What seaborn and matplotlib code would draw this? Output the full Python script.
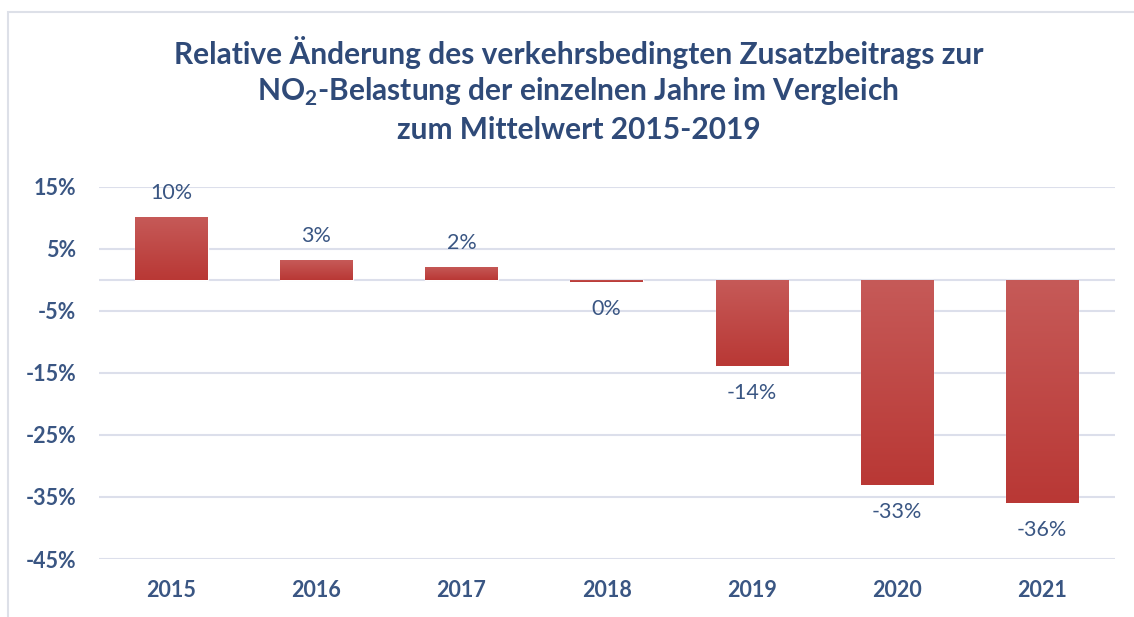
import matplotlib
matplotlib.use('Agg')
import matplotlib.pyplot as plt
import matplotlib.patches as mpatches
import numpy as np
import pandas as pd
import seaborn as sns

years = ['2015', '2016', '2017', '2018', '2019', '2020', '2021']
change = [10.2, 3.2, 2.1, -0.4, -13.9, -33.1, -36.0]
labels = ['10%', '3%', '2%', '0%', '-14%', '-33%', '-36%']
yticks = [15, 5, -5, -15, -25, -35, -45]

df = pd.DataFrame({'Jahr': years, 'Änderung': change})

sns.set_style('white')
plt.rcParams['font.family'] = ['Lato', 'DejaVu Sans']
plt.rcParams['mathtext.fontset'] = 'custom'
plt.rcParams['mathtext.rm'] = 'Lato:bold'
plt.rcParams['mathtext.bf'] = 'Lato:bold'

title_col = '#2f4a78'
tick_col = '#3a5683'
grid_col = '#dcdfeb'

fig = plt.figure(figsize=(11.34, 6.17), dpi=100)
ax = fig.add_axes([0.087, 0.094, 0.896, 0.603])

sns.barplot(data=df, x='Jahr', y='Änderung', color='#c0413e', width=0.5,
            saturation=1, ax=ax, zorder=3)

# leichter Verlauf in den Balken
grad = np.linspace(0, 1, 100).reshape(-1, 1)
cmap = matplotlib.colors.LinearSegmentedColormap.from_list('rot', ['#b93835', '#c65a58'])
for bar in ax.patches:
    x0, y0 = bar.get_x(), bar.get_y()
    w, h = bar.get_width(), bar.get_height()
    ylo, yhi = min(y0, y0 + h), max(y0, y0 + h)
    im = ax.imshow(grad, extent=[x0, x0 + w, ylo, yhi], origin='lower',
                   cmap=cmap, aspect='auto', zorder=4)
    im.set_clip_path(bar)

ax.set_ylim(-45, 15)
ax.set_xlim(-0.5, 6.5)
ax.set_yticks(yticks)
ax.set_yticklabels([f'{t}%' for t in yticks])
for g in [15, 5, 0, -5, -15, -25, -35, -45]:
    ax.axhline(g, color=grid_col, lw=1.5, zorder=1)

for i, (v, lab) in enumerate(zip(change, labels)):
    off = 10 if v >= 0 else -12
    ax.annotate(lab, (i, v), xytext=(0, off), textcoords='offset points',
                ha='center', va='bottom' if v >= 0 else 'top',
                fontsize=15.5, color=tick_col)

ax.set_xlabel('')
ax.set_ylabel('')
ax.tick_params(axis='both', length=0, labelsize=15.5, colors=tick_col)
for lab in ax.get_xticklabels() + ax.get_yticklabels():
    lab.set_fontweight('bold')
ax.tick_params(axis='y', pad=16)
ax.tick_params(axis='x', pad=15)
sns.despine(ax=ax, left=True, bottom=True, top=True, right=True)

fig.text(0.51, 0.915, 'Relative Änderung des verkehrsbedingten Zusatzbeitrags zur',
         ha='center', va='center', fontsize=21.5, fontweight='bold', color=title_col)
fig.text(0.51, 0.851, r'NO$_\mathbf{2}$-Belastung der einzelnen Jahre im Vergleich',
         ha='center', va='center', fontsize=21.5, fontweight='bold', color=title_col)
fig.text(0.51, 0.789, 'zum Mittelwert 2015-2019',
         ha='center', va='center', fontsize=21.5, fontweight='bold', color=title_col)

# Rahmen des Diagrammbereichs
fig.patches.append(mpatches.Rectangle((0.007, -0.05), 1.1, 1.03, transform=fig.transFigure,
                                      fill=False, edgecolor='#dde0e8', lw=1.5))

fig.savefig('out.png', dpi=100)
